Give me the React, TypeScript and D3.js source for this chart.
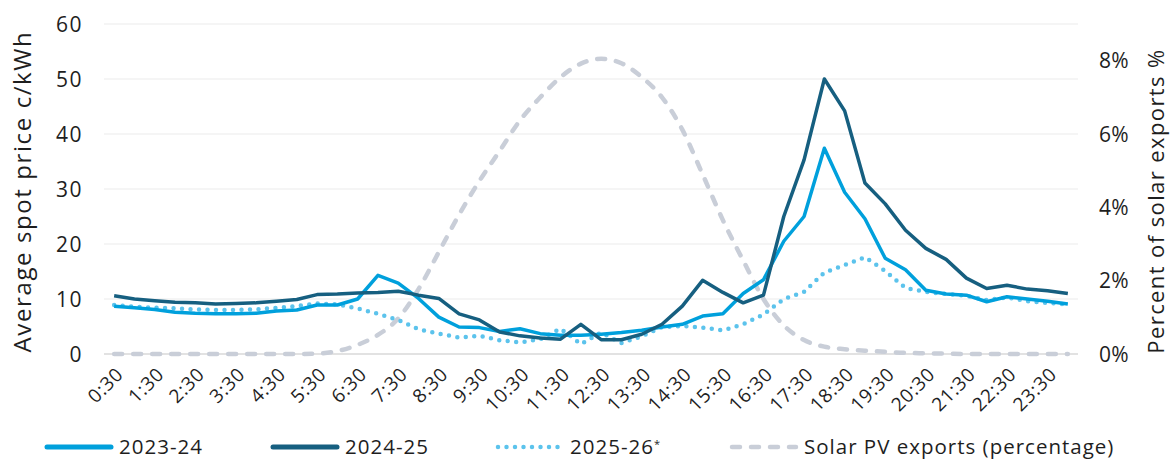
import * as d3 from "d3"

// half-hour intervals, ending time
const times = [
  "0:30", "1:00", "1:30", "2:00", "2:30", "3:00", "3:30", "4:00", "4:30", "5:00", "5:30", "6:00",
  "6:30", "7:00", "7:30", "8:00", "8:30", "9:00", "9:30", "10:00", "10:30", "11:00", "11:30", "12:00",
  "12:30", "13:00", "13:30", "14:00", "14:30", "15:00", "15:30", "16:00", "16:30", "17:00", "17:30", "18:00",
  "18:30", "19:00", "19:30", "20:00", "20:30", "21:00", "21:30", "22:00", "22:30", "23:00", "23:30", "24:00",
]

// c/kWh
const price2324 = [
  8.7, 8.4, 8.1, 7.6, 7.4, 7.3, 7.3, 7.4, 7.8, 8.0, 8.9, 8.9,
  10.0, 14.3, 12.9, 10.1, 6.7, 4.9, 4.8, 4.1, 4.6, 3.7, 3.4, 3.4,
  3.6, 3.9, 4.3, 4.9, 5.4, 6.9, 7.3, 11.0, 13.5, 20.5, 25.0, 37.4,
  29.4, 24.6, 17.4, 15.3, 11.6, 10.9, 10.7, 9.5, 10.4, 10.0, 9.6, 9.1,
]
const price2425 = [
  10.6, 10.0, 9.7, 9.4, 9.3, 9.1, 9.2, 9.3, 9.6, 9.9, 10.8, 10.9,
  11.1, 11.2, 11.4, 10.7, 10.1, 7.3, 6.2, 4.0, 3.3, 2.9, 2.7, 5.4,
  2.6, 2.6, 3.6, 5.4, 8.7, 13.4, 11.2, 9.3, 10.7, 25.0, 35.3, 50.0,
  44.2, 31.1, 27.3, 22.5, 19.2, 17.2, 13.8, 11.9, 12.5, 11.8, 11.5, 11.0,
]
const price2526 = [
  8.9, 8.6, 8.4, 8.3, 8.1, 8.0, 8.0, 8.1, 8.4, 8.7, 9.2, 9.0,
  8.3, 7.3, 6.2, 4.5, 3.7, 3.0, 3.3, 2.5, 2.1, 2.7, 4.6, 1.8,
  3.9, 2.0, 3.2, 4.9, 5.1, 4.8, 4.3, 5.4, 7.2, 10.0, 11.3, 14.8,
  16.2, 17.6, 15.1, 12.0, 11.3, 10.9, 10.6, 9.8, 10.3, 9.6, 9.3, 9.0,
]
// percent of daily solar exports
const solarPct = [
  0, 0, 0, 0, 0, 0, 0, 0, 0, 0, 0.01, 0.08,
  0.25, 0.52, 0.97, 1.77, 2.78, 3.8, 4.72, 5.54, 6.37, 7.0, 7.55, 7.92,
  8.05, 7.93, 7.55, 7.0, 6.12, 4.9, 3.65, 2.55, 1.5, 0.78, 0.38, 0.2,
  0.13, 0.09, 0.06, 0.03, 0.02, 0.01, 0, 0, 0, 0, 0, 0,
]

const priceTicks = [0, 10, 20, 30, 40, 50, 60]
const pctTicks = [0, 2, 4, 6, 8]

const W = 1172
const H = 461
const M = { left: 104, right: 1078, top: 24, bottom: 354 }
const FONT = "'Open Sans', Lato, sans-serif"
const TXT = "#1e1e1e"

const C2324 = "#00a0dc"
const C2425 = "#165f80"
const C2526 = "#5cc3ec"
const CSOLAR = "#c9ced8"

export default function App() {
  const x = d3.scaleBand<string>().domain(times).range([M.left, M.right])
  const cx = (i: number) => (x(times[i]) ?? 0) + x.bandwidth() / 2
  const yL = d3.scaleLinear().domain([0, 60]).range([M.bottom, M.top])
  const yR = d3.scaleLinear().domain([0, 9]).range([M.bottom, M.top])

  const priceLine = d3.line<number>().x((_, i) => cx(i)).y(d => yL(d))
  const solarLine = d3.line<number>().x((_, i) => cx(i)).y(d => yR(d)).curve(d3.curveMonotoneX)

  const legend = [
    { label: "2023-24", x: 45, color: C2324, dash: undefined as string | undefined, w: 3.5 },
    { label: "2024-25", x: 271, color: C2425, dash: undefined, w: 3.5 },
    { label: "2025-26", x: 496, color: C2526, dash: "0 8.5", w: 4.5, star: true },
    { label: "Solar PV exports (percentage)", x: 730, color: CSOLAR, dash: "8 11", w: 4.5 },
  ]

  return (
    <svg width={W} height={H} style={{ position: "absolute", left: 0, top: 0, background: "#fff" }}
      fontFamily={FONT}>
      {/* grid */}
      {priceTicks.map(t => (
        <line key={t} x1={M.left} x2={M.right} y1={yL(t)} y2={yL(t)}
          stroke={t === 0 ? "#d9d9d9" : "#f2f2f2"} strokeWidth={1.5} />
      ))}

      {/* left axis */}
      {priceTicks.map(t => (
        <text key={t} x={83} y={yL(t)} dy="0.36em" textAnchor="end" fontSize={21} letterSpacing={1.5}
          fill={TXT}>{t}</text>
      ))}
      <text transform={`translate(31,${(33 + 350) / 2}) rotate(-90)`} textAnchor="middle"
        fontSize={24} letterSpacing={1.6} fill={TXT}>Average spot price c/kWh</text>

      {/* right axis */}
      {pctTicks.map(t => (
        <text key={t} x={1099} y={yR(t)} dy="0.36em" textAnchor="start" fontSize={21} letterSpacing={0.3}
          fill={TXT}>{t}%</text>
      ))}
      <text transform={`translate(1164,${(47 + 355) / 2}) rotate(-90)`} textAnchor="middle"
        fontSize={22} letterSpacing={1.4} fill={TXT}>Percent of solar exports %</text>

      {/* x axis labels */}
      {times.map((t, i) => i % 2 === 0 ? (
        <text key={t} transform={`translate(${cx(i) + 1},${M.bottom + 12}) rotate(-45)`} textAnchor="end"
          dy="0.7em" fontSize={19} letterSpacing={0.8} fill={TXT}>{t}</text>
      ) : null)}

      {/* series */}
      <path d={solarLine(solarPct) ?? ""} fill="none" stroke={CSOLAR} strokeWidth={4.5}
        strokeDasharray="8 11" strokeLinecap="round" />
      <path d={priceLine(price2526) ?? ""} fill="none" stroke={C2526} strokeWidth={4.5}
        strokeDasharray="0 8.5" strokeLinecap="round" strokeLinejoin="round" />
      <path d={priceLine(price2324) ?? ""} fill="none" stroke={C2324} strokeWidth={3.5}
        strokeLinejoin="round" />
      <path d={priceLine(price2425) ?? ""} fill="none" stroke={C2425} strokeWidth={3.5}
        strokeLinejoin="round" />

      {/* legend */}
      {legend.map(l => (
        <g key={l.label} transform={`translate(${l.x},447)`}>
          <line x1={2} x2={66} y1={0} y2={0} stroke={l.color} strokeWidth={l.dash ? l.w : 5}
            strokeDasharray={l.dash} strokeLinecap="round" />
          <text x={74} y={0} dy="0.33em" fontSize={20.5} letterSpacing={1} fill={TXT}>
            {l.label}
            {l.star ? <tspan dy="-0.5em" fontSize={11}>*</tspan> : null}
          </text>
        </g>
      ))}
    </svg>
  )
}
